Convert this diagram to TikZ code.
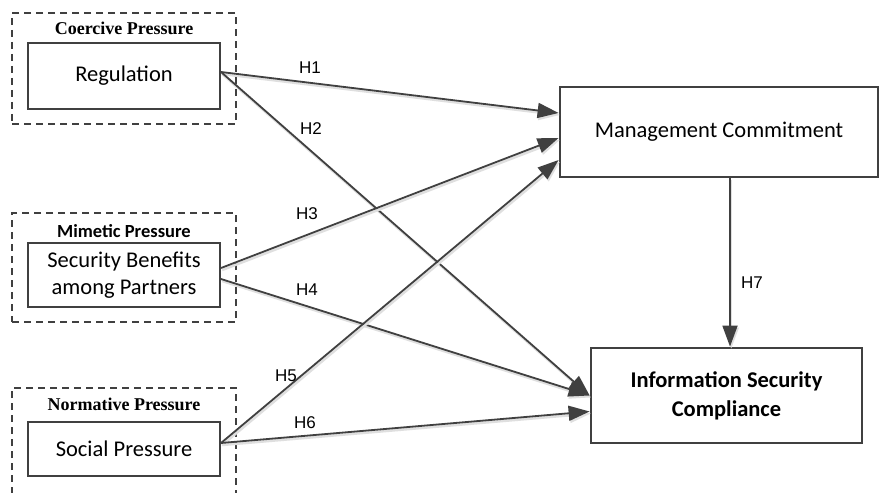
\documentclass[tikz,border=0pt]{standalone}
\usepackage{fontspec}
\setmainfont{Carlito}
\newfontfamily\timesf{Liberation Serif}
\newfontfamily\labf{Liberation Sans}
\usetikzlibrary{arrows.meta,calc}
\definecolor{ln}{HTML}{404040}
\begin{document}
\begin{tikzpicture}[x=1pt,y=-1pt,
  box/.style={draw=ln, line width=2pt, fill=white, inner sep=0pt, align=center, font=\fontsize{22.5}{27}\selectfont},
  bigbox/.style={box, line width=2.8pt},
  grp/.style={draw=ln, line width=1.5pt, dash pattern=on 7pt off 5pt, inner sep=0pt},
  ttl/.style={inner sep=0pt, font=\timesf\bfseries\fontsize{18}{20}\selectfont},
  conn/.style={draw=ln, line width=1.8pt, -{Triangle[length=21pt,width=15pt]},
    preaction={draw=gray!25, line width=2.5pt, transform canvas={shift={(1.2pt,-2pt)}}}},
  hl/.style={inner sep=0pt, font=\labf\fontsize{17}{20}\selectfont}]
\useasboundingbox (0,0) rectangle (882,492);
\fill[white] (0,0) rectangle (882,492);
% group frames
\node[grp, minimum width=224pt, minimum height=111pt] (cg) at (124,68.5) {};
\node[grp, minimum width=224pt, minimum height=109pt] (mg) at (124,267.5) {};
\draw[draw=ln, line width=1.5pt, dash pattern=on 7pt off 5pt] (12,494) -- (12,388) -- (236,388) -- (236,494);
\node[ttl] (ct) at (124,28) {Coercive Pressure};
\node[ttl, font=\bfseries\fontsize{18.5}{20}\selectfont] (mt) at (124,231) {Mimetic Pressure};
\node[ttl] (nt) at (124,404) {Normative Pressure};
% boxes
\node[box, minimum width=192pt, minimum height=66pt] (reg) at (124,76) {Regulation};
\node[box, minimum width=192pt, minimum height=64pt] (sec) at (124,275) {Security Benefits\\among Partners};
\node[box, minimum width=192pt, minimum height=54pt] (soc) at (124,449) {Social Pressure};
\node[bigbox, minimum width=318pt, minimum height=90pt] (mgmt) at (719,132) {Management Commitment};
\node[bigbox, minimum width=271pt, minimum height=95pt, font=\bfseries\fontsize{22.5}{29}\selectfont] (info) at (726.5,395.5) {Information Security\\Compliance};
% connectors
\draw[conn] ($(reg.east)+(0,-4)$) -- ($(mgmt.west)+(0,-19)$);
\draw[conn] ($(reg.east)+(0,-4)$) -- (info.west);
\draw[conn] ($(sec.east)+(0,-7)$) -- ($(mgmt.west)+(0,6)$);
\draw[conn] ($(sec.east)+(0,4)$) -- (info.west);
\draw[conn] ($(soc.east)+(0,-6)$) -- ($(mgmt.west)+(0,28)$);
\draw[conn] ($(soc.east)+(0,-6)$) -- ($(info.west)+(0,16)$);
\draw[conn] ($(mgmt.south)+(11,0)$) -- ($(info.north)+(3.5,0)$);
% labels
\node[hl] (h1) at (310,68) {H1};
\node[hl] (h2) at (311,129) {H2};
\node[hl] (h3) at (307,214) {H3};
\node[hl] (h4) at (307,290) {H4};
\node[hl] (h5) at (286,376) {H5};
\node[hl] (h6) at (305,423) {H6};
\node[hl] (h7) at (752,283) {H7};
\end{tikzpicture}
\end{document}
